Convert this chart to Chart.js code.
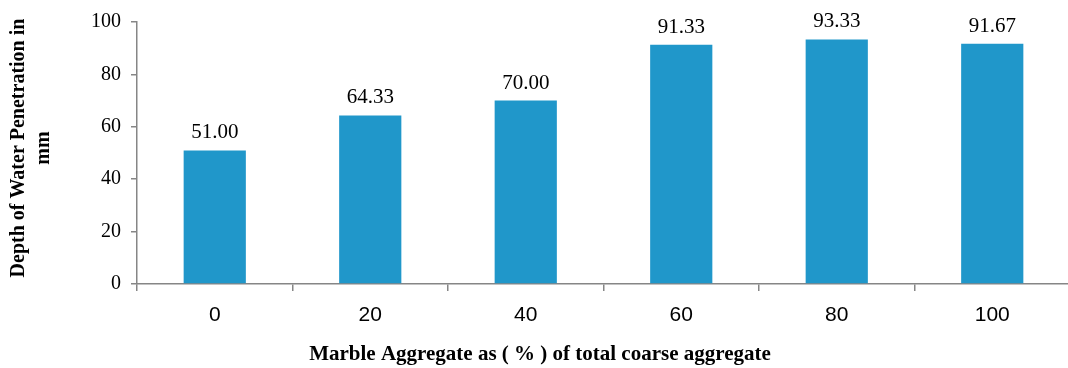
<!DOCTYPE html>
<html>
<head>
<meta charset="utf-8">
<script src="https://cdn.jsdelivr.net/npm/chart.js@4.4.1/dist/chart.umd.min.js"></script>
<style>
  html, body { margin: 0; padding: 0; background: #fff; overflow: hidden; }
  #wrap { position: relative; width: 1071px; height: 368px; }
</style>
</head>
<body>
<div id="wrap"><canvas id="penChart"></canvas></div>
<script>
// marble aggregate replacement (%) vs depth of water penetration (mm)
const categories = ['0', '20', '40', '60', '80', '100'];
const depthValues = [51.00, 64.33, 70.00, 91.33, 93.33, 91.67];
const yTicks = [0, 20, 40, 60, 80, 100];

const xTitle = 'Marble Aggregate as ( % ) of total coarse aggregate';
const yTitleLines = ['Depth of Water Penetration in', 'mm'];

const axisGrey = '#868686';
const serif = "'Liberation Serif', 'Times New Roman', serif";

// value labels above the bars + both axis titles
const textPlugin = {
    id: 'textPlugin',
    afterDatasetsDraw(chart) {
        const ctx = chart.ctx;
        const meta = chart.getDatasetMeta(0);
        ctx.save();
        ctx.fillStyle = '#000';
        ctx.font = '21px ' + serif;
        ctx.textAlign = 'center';
        ctx.textBaseline = 'alphabetic';
        meta.data.forEach((bar, i) => {
            ctx.fillText(depthValues[i].toFixed(2), bar.x, bar.y - 12);
        });

        ctx.font = 'bold 21px ' + serif;
        ctx.fillText(xTitle, 540, 360);

        ctx.font = 'bold 20px ' + serif;
        ctx.translate(0, 148);
        ctx.rotate(-Math.PI / 2);
        ctx.textBaseline = 'middle';
        ctx.fillText(yTitleLines[0], 0, 19);
        ctx.fillText(yTitleLines[1], 0, 44);
        ctx.restore();
    }
};

new Chart(document.getElementById('penChart'), {
    type: 'bar',
    data: {
        labels: categories,
        datasets: [{
            data: depthValues,
            backgroundColor: '#2097CA',
            borderWidth: 0,
            categoryPercentage: 1.0,
            barPercentage: 0.4
        }]
    },
    options: {
        responsive: true,
        maintainAspectRatio: false,
        animation: false,
        layout: { padding: { top: 21, right: 1, left: 0, bottom: 0 } },
        plugins: { legend: { display: false }, tooltip: { enabled: false } },
        scales: {
            x: {
                grid: { display: true, offset: true, drawOnChartArea: false, drawTicks: true, tickLength: 7, color: axisGrey, lineWidth: 1.5 },
                border: { color: axisGrey, width: 1.5 },
                ticks: { color: '#000', font: { family: "'Liberation Sans', Arial, sans-serif", size: 21 }, padding: 12 },
                afterFit(scale) { scale.height = 84; }
            },
            y: {
                min: 0,
                max: 100,
                afterBuildTicks(scale) { scale.ticks = yTicks.map(v => ({ value: v })); },
                grid: { display: true, drawOnChartArea: false, drawTicks: true, tickLength: 6, color: axisGrey, lineWidth: 1.5 },
                border: { color: axisGrey, width: 1.5 },
                ticks: { color: '#000', font: { family: serif, size: 20 }, padding: 10 },
                afterFit(scale) { scale.width = 137; }
            }
        }
    },
    plugins: [textPlugin]
});
</script>
</body>
</html>
